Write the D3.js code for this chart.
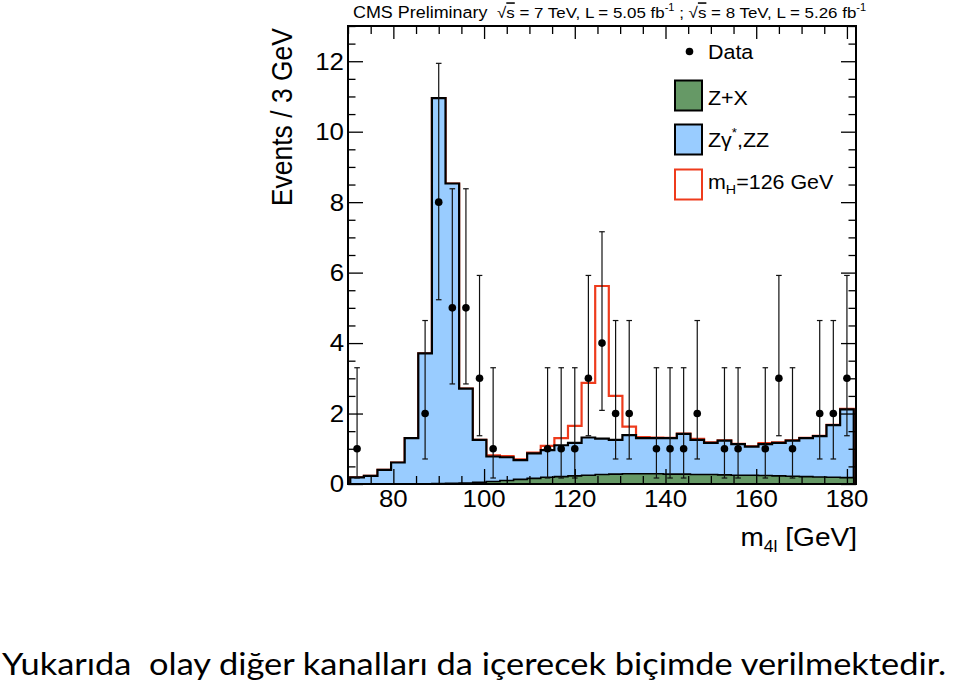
<!DOCTYPE html>
<html>
<head>
<meta charset="utf-8">
<script src="https://cdn.jsdelivr.net/npm/d3@7"></script>
<style>
  html, body { margin: 0; padding: 0; background: #ffffff; }
  svg { display: block; }
  text { font-family: "Liberation Sans", Arial, Helvetica, sans-serif; fill: #000; }
</style>
</head>
<body>
<svg id="chart" width="960" height="684"></svg>
<script>
// ---------- data ----------
const binCenters = [72,75,78,81,84,87,90,93,96,99,102,105,108,111,114,117,120,123,126,129,132,135,138,141,144,147,150,153,156,159,162,165,168,171,174,177,180];
const binWidth = 3;
// Z+X background (green)
const zxValues = [0,0,0,0,0,0,0.01,0.02,0.03,0.05,0.07,0.10,0.13,0.16,0.19,0.21,0.23,0.25,0.27,0.28,0.29,0.29,0.29,0.28,0.28,0.27,0.27,0.26,0.25,0.25,0.24,0.23,0.22,0.21,0.20,0.19,0.18];
// Zγ*, ZZ background (blue), stacked on Z+X
const zzValues = [0.19,0.23,0.40,0.61,1.30,3.71,10.94,8.51,2.68,1.20,0.71,0.66,0.55,0.71,0.77,0.89,0.94,1.07,1.02,0.97,1.10,1.01,1.01,1.02,1.14,0.98,0.90,0.97,0.88,0.81,0.89,0.94,1.01,1.09,1.16,1.48,1.94];
// mH = 126 GeV signal (red outline), stacked on top
const higgsValues = [0,0,0,0,0,0,0,0,0,0,0.03,0.03,0.02,0.02,0.12,0.20,0.48,1.55,4.33,1.25,0.24,0.03,0.02,0.01,0.01,0.03,0.01,0.01,0.01,0.01,0.03,0.01,0.01,0.01,0.01,0.01,0.01];
// observed data
const dataCounts  = [1,0,0,0,0,2,8,5,5,3,1,0,0,0,1,1,1,3,4,2,2,0,1,1,1,2,0,1,1,0,1,3,1,0,2,2,3];
const dataErrLow  = [0.83,0,0,0,0,1.29,2.77,2.16,2.16,1.63,0.83,0,0,0,0.83,0.83,0.83,1.63,1.91,1.29,1.29,0,0.83,0.83,0.83,1.29,0,0.83,0.83,0,0.83,1.63,0.83,0,1.29,1.29,1.63];
const dataErrHigh = [2.30,0,0,0,0,2.64,3.94,3.38,3.38,2.92,2.30,0,0,0,2.30,2.30,2.30,2.92,3.16,2.64,2.64,0,2.30,2.30,2.30,2.64,0,2.30,2.30,0,2.30,2.92,2.30,0,2.64,2.64,2.92];
// axes
const xDomain = [70, 182];
const yDomain = [0, 13];
const xTickLabels = [80, 100, 120, 140, 160, 180];
const yTickLabels = [0, 2, 4, 6, 8, 10, 12];

// ---------- layout ----------
const PL = 348, PR = 856, PT = 26, PB = 484;
const SX = 1.1; // horizontal stretch of the original text
const svg = d3.select("#chart");
const x = d3.scaleLinear().domain(xDomain).range([PL, PR]);
const y = d3.scaleLinear().domain(yDomain).range([PB, PT]);

const colGreen = "#669966", colBlue = "#99ccff", colRed = "#ee3b1c";

function txt(parent, px, py, size, anchor) {
  return parent.append("text")
    .attr("transform", `translate(${px},${py}) scale(${SX},1)`)
    .attr("text-anchor", anchor || "start")
    .style("font-size", size + "px");
}

// ---------- stacked histograms ----------
const lvlZX = zxValues.slice();
const lvlZZ = zxValues.map((v, i) => v + zzValues[i]);
const lvlH  = lvlZZ.map((v, i) => v + higgsValues[i]);

function stepPoints(vals) {
  const pts = [];
  binCenters.forEach((c, i) => {
    pts.push({ x: c - binWidth / 2, y: vals[i] });
    pts.push({ x: c + binWidth / 2, y: vals[i] });
  });
  return pts;
}
const area = d3.area().x(d => x(d.x)).y0(y(0)).y1(d => y(d.y));
const line = d3.line().x(d => x(d.x)).y(d => y(d.y));
function outline(vals) {
  const p = stepPoints(vals);
  return [{ x: p[0].x, y: 0 }, ...p, { x: p[p.length - 1].x, y: 0 }];
}

const hist = svg.append("g");
// signal on top of stack: white fill, red outline
hist.append("path").attr("d", area(stepPoints(lvlH))).attr("fill", "#ffffff");
hist.append("path").attr("d", line(outline(lvlH))).attr("fill", "none")
  .attr("stroke", colRed).attr("stroke-width", 2.2).attr("stroke-linejoin", "miter");
// ZZ
hist.append("path").attr("d", area(stepPoints(lvlZZ))).attr("fill", colBlue);
hist.append("path").attr("d", line(outline(lvlZZ))).attr("fill", "none")
  .attr("stroke", "#000").attr("stroke-width", 2.2).attr("stroke-linejoin", "miter");
// Z+X
hist.append("path").attr("d", area(stepPoints(lvlZX))).attr("fill", colGreen);
hist.append("path").attr("d", line(outline(lvlZX))).attr("fill", "none")
  .attr("stroke", "#000").attr("stroke-width", 1.6).attr("stroke-linejoin", "miter");

// ---------- data points ----------
const pts = svg.append("g");
binCenters.forEach((c, i) => {
  const n = dataCounts[i];
  if (n <= 0) return;
  const cx = x(c);
  const yl = y(n - dataErrLow[i]), yh = y(n + dataErrHigh[i]);
  pts.append("line").attr("x1", cx).attr("x2", cx).attr("y1", yl).attr("y2", yh)
    .attr("stroke", "#111").attr("stroke-width", 1.2);
  [yl, yh].forEach(yy => pts.append("line").attr("x1", cx - 2.8).attr("x2", cx + 2.8)
    .attr("y1", yy).attr("y2", yy).attr("stroke", "#111").attr("stroke-width", 1.2));
  pts.append("circle").attr("cx", cx).attr("cy", y(n)).attr("r", 3.8).attr("fill", "#000");
});

// ---------- axes (ticks inward on all four sides) ----------
const yMinor = d3.range(0, 13.01, 0.5).filter(v => yTickLabels.indexOf(v) < 0);
const xMinor = d3.range(70, 181, 5).filter(v => xTickLabels.indexOf(v) < 0);
const axes = svg.append("g");
function addAxis(gen, tx, ty) {
  const g = axes.append("g").attr("transform", `translate(${tx},${ty})`).call(gen);
  g.select(".domain").remove();
  g.selectAll("text").remove();
  g.selectAll("line").attr("stroke", "#000").attr("stroke-width", 1.3);
}
addAxis(d3.axisLeft(y).tickValues(yTickLabels).tickSize(-15).tickSizeOuter(0), PL, 0);
addAxis(d3.axisLeft(y).tickValues(yMinor).tickSize(-7.5).tickSizeOuter(0), PL, 0);
addAxis(d3.axisRight(y).tickValues(yTickLabels).tickSize(-15).tickSizeOuter(0), PR, 0);
addAxis(d3.axisRight(y).tickValues(yMinor).tickSize(-7.5).tickSizeOuter(0), PR, 0);
addAxis(d3.axisBottom(x).tickValues(xTickLabels).tickSize(-15).tickSizeOuter(0), 0, PB);
addAxis(d3.axisBottom(x).tickValues(xMinor).tickSize(-8).tickSizeOuter(0), 0, PB);
addAxis(d3.axisTop(x).tickValues(xTickLabels).tickSize(-13).tickSizeOuter(0), 0, PT);
addAxis(d3.axisTop(x).tickValues(xMinor).tickSize(-8).tickSizeOuter(0), 0, PT);
axes.append("rect").attr("x", PL).attr("y", PT).attr("width", PR - PL).attr("height", PB - PT)
  .attr("fill", "none").attr("stroke", "#000").attr("stroke-width", 2);

// tick labels
yTickLabels.forEach(v => txt(svg, PL - 4, y(v) + 8.4, 23.5, "end").text(v));
xTickLabels.forEach(v => txt(svg, x(v), 507, 23.5, "middle").text(v));

// axis titles
svg.append("text")
  .attr("transform", `translate(292,28) scale(${SX},1) rotate(-90)`)
  .attr("text-anchor", "end").style("font-size", "26.5px")
  .text("Events / 3 GeV");
const xt = txt(svg, 857, 546, 25.5, "end");
xt.append("tspan").text("m");
xt.append("tspan").attr("dy", 6).style("font-size", "16px").text("4l");
xt.append("tspan").attr("dy", -6).text(" [GeV]");

// header
txt(svg, 353, 17.5, 16.3, "start").text("CMS Preliminary");
const hd = txt(svg, 497, 17.5, 15.4, "start").style("white-space", "pre");
function sqrtS(t) {
  t.append("tspan").text("√");
  t.append("tspan").style("text-decoration", "overline").text("s");
}
sqrtS(hd);
hd.append("tspan").text(" = 7 TeV, L = 5.05 fb");
hd.append("tspan").attr("dy", -7).style("font-size", "10px").text("-1");
hd.append("tspan").attr("dy", 7).text(" ; ");
sqrtS(hd);
hd.append("tspan").text(" = 8 TeV, L = 5.26 fb");
hd.append("tspan").attr("dy", -7).style("font-size", "10px").text("-1");

// ---------- legend ----------
const lg = svg.append("g");
lg.append("circle").attr("cx", 689.5).attr("cy", 51.5).attr("r", 3.8).attr("fill", "#000");
txt(lg, 708, 58.5, 19.5, "start").text("Data");
lg.append("rect").attr("x", 675).attr("y", 80.5).attr("width", 27).attr("height", 30)
  .attr("fill", colGreen).attr("stroke", "#000").attr("stroke-width", 2);
txt(lg, 708, 104.5, 19.5, "start").text("Z+X");
lg.append("rect").attr("x", 675).attr("y", 124.5).attr("width", 27).attr("height", 30)
  .attr("fill", colBlue).attr("stroke", "#000").attr("stroke-width", 2);
const zg = txt(lg, 708, 147, 19.5, "start");
zg.append("tspan").text("Zγ");
zg.append("tspan").attr("dy", -10).style("font-size", "12px").text("*");
zg.append("tspan").attr("dy", 10).text(",ZZ");
lg.append("rect").attr("x", 675).attr("y", 169.5).attr("width", 27).attr("height", 30)
  .attr("fill", "#fff").attr("stroke", colRed).attr("stroke-width", 2);
const mh = txt(lg, 708, 188.5, 19.5, "start");
mh.append("tspan").text("m");
mh.append("tspan").attr("dy", 5).style("font-size", "13px").text("H");
mh.append("tspan").attr("dy", -5).text("=126 GeV");

// ---------- slide caption ----------
svg.append("text")
  .attr("x", 2).attr("y", 675)
  .style("font-family", "Lato, 'Open Sans', sans-serif")
  .style("font-size", "31px")
  .style("white-space", "pre")
  .attr("textLength", 944).attr("lengthAdjust", "spacingAndGlyphs")
  .text("Yukarıda  olay diğer kanalları da içerecek biçimde verilmektedir.");
</script>
</body>
</html>
